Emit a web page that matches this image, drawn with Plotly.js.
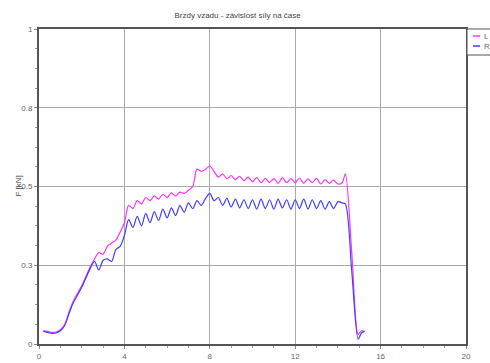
<!DOCTYPE html>
<html>
<head>
<meta charset="utf-8">
<script src="https://cdn.plot.ly/plotly-3.0.1.min.js"></script>
<style>
  html, body { margin: 0; padding: 0; background: #fff; }
  #chart { width: 490px; height: 363px; }
</style>
</head>
<body>
<div id="chart"></div>
<script>
// Time samples [s]
const time = [
  0.2, 0.4, 0.6, 0.8, 1.0, 1.2, 1.4, 1.6, 1.8, 2.0,
  2.2, 2.4, 2.6, 2.8, 3.0, 3.2, 3.4, 3.6, 3.8, 4.0,
  4.2, 4.4, 4.6, 4.8, 5.0, 5.2, 5.4, 5.6, 5.8, 6.0,
  6.2, 6.4, 6.6, 6.8, 7.0, 7.2, 7.4, 7.6, 7.8, 8.0,
  8.2, 8.4, 8.6, 8.8, 9.0, 9.2, 9.4, 9.6, 9.8, 10.0,
  10.2, 10.4, 10.6, 10.8, 11.0, 11.2, 11.4, 11.6, 11.8, 12.0,
  12.2, 12.4, 12.6, 12.8, 13.0, 13.2, 13.4, 13.6, 13.8, 14.0,
  14.2, 14.35, 14.65, 14.95, 15.1, 15.25
];

// Left brake force [kN]
const forceL = [
  0.042, 0.040, 0.037, 0.038, 0.045, 0.062, 0.100, 0.135, 0.160, 0.185,
  0.215, 0.245, 0.270, 0.290, 0.285, 0.310, 0.320, 0.330, 0.355, 0.385,
  0.440, 0.430, 0.455, 0.445, 0.465, 0.455, 0.470, 0.460, 0.475, 0.465,
  0.480, 0.470, 0.482, 0.478, 0.488, 0.500, 0.555, 0.548, 0.555, 0.565,
  0.548, 0.530, 0.540, 0.525, 0.535, 0.522, 0.532, 0.518, 0.530, 0.515,
  0.528, 0.512, 0.526, 0.513, 0.525, 0.510, 0.528, 0.512, 0.525, 0.512,
  0.527, 0.510, 0.524, 0.512, 0.526, 0.508, 0.522, 0.510, 0.520, 0.508,
  0.512, 0.540, 0.290, 0.030, 0.042, 0.040
];

// Right brake force [kN]
const forceR = [
  0.040, 0.037, 0.034, 0.035, 0.042, 0.058, 0.095, 0.130, 0.155, 0.180,
  0.210, 0.240, 0.262, 0.235, 0.265, 0.270, 0.262, 0.300, 0.310, 0.345,
  0.395, 0.370, 0.405, 0.375, 0.415, 0.385, 0.420, 0.392, 0.428, 0.400,
  0.432, 0.408, 0.440, 0.418, 0.448, 0.430, 0.455, 0.440, 0.462, 0.478,
  0.455, 0.465, 0.440, 0.462, 0.435, 0.460, 0.432, 0.458, 0.430, 0.458,
  0.428, 0.460, 0.430, 0.458, 0.428, 0.460, 0.432, 0.458, 0.428, 0.458,
  0.430, 0.460, 0.428, 0.458, 0.430, 0.455, 0.428, 0.452, 0.430, 0.452,
  0.448, 0.445, 0.230, 0.015, 0.035, 0.040
];

const seriesNames = ['L', 'R'];
const seriesColors = ['#ff33ff', '#3f3fff'];

const xTicks = [0, 4, 8, 12, 16, 20];
const yTicks = [0, 0.25, 0.5, 0.75, 1];
const yTickText = ['0', '0.3', '0.5', '0.8', '1'];

const FAMILY = 'Liberation Sans, Arial, sans-serif';
const font = { family: FAMILY, size: 8, color: '#666' };

// Plot-area geometry in pixels (used for the legend box and the axis title)
const W = 490, H = 363;
const M = { l: 39, r: 24, t: 29, b: 19 };
const px2x = p => (p - M.l) / (W - M.l - M.r);
const px2y = p => 1 - (p - M.t) / (H - M.t - M.b);

const traces = [
  { x: time, y: forceL, name: seriesNames[0], type: 'scatter', mode: 'lines',
    line: { color: seriesColors[0], width: 1.2, shape: 'spline', smoothing: 0.8 } },
  { x: time, y: forceR, name: seriesNames[1], type: 'scatter', mode: 'lines',
    line: { color: seriesColors[1], width: 1.2, shape: 'spline', smoothing: 0.8 } }
];

// Compact legend: a framed box hugging the right edge of the plot
const shapes = [
  { type: 'rect', xref: 'paper', yref: 'paper',
    x0: px2x(467), x1: px2x(492), y0: px2y(55), y1: px2y(29),
    line: { color: '#555', width: 1 }, fillcolor: '#fff', layer: 'above' }
];
const annotations = [];
seriesNames.forEach((name, i) => {
  const yc = 36 + i * 10;
  shapes.push({ type: 'line', xref: 'paper', yref: 'paper',
    x0: px2x(473), x1: px2x(480), y0: px2y(yc), y1: px2y(yc),
    line: { color: seriesColors[i], width: 1.5 }, layer: 'above' });
  annotations.push({ xref: 'paper', yref: 'paper', x: px2x(482), y: px2y(yc),
    xanchor: 'left', yanchor: 'middle', text: name, showarrow: false,
    font: font });
});

// Y-axis title sits close to the tick labels
annotations.push({ xref: 'paper', yref: 'paper', x: px2x(18), y: 0.5,
  xanchor: 'center', yanchor: 'middle', textangle: -90, text: 'F [kN]',
  showarrow: false, font: { family: FAMILY, size: 8, color: '#444' } });

const layout = {
  width: W, height: H,
  margin: { l: M.l, r: M.r, t: M.t, b: M.b, autoexpand: false },
  paper_bgcolor: '#fff', plot_bgcolor: '#fff',
  font: font,
  showlegend: false,
  title: {
    text: 'Brzdy vzadu - závislost síly na čase',
    font: { family: FAMILY, size: 8, color: '#444' },
    x: 0.485, xanchor: 'center', y: 0.958, yanchor: 'middle', yref: 'container'
  },
  shapes: shapes,
  annotations: annotations,
  xaxis: {
    range: [0, 20], tickvals: xTicks, ticktext: xTicks.map(String),
    showgrid: true, gridcolor: '#aaa', gridwidth: 1,
    zeroline: false, showline: true, linecolor: '#555', linewidth: 2, mirror: true,
    ticks: 'outside', ticklen: 3, tickcolor: '#888',
    minor: { tick0: 0, dtick: 1, ticks: 'outside', ticklen: 2, tickcolor: '#999', showgrid: false },
    tickfont: font, fixedrange: true
  },
  yaxis: {
    range: [0, 1], tickvals: yTicks, ticktext: yTickText,
    showgrid: true, gridcolor: '#aaa', gridwidth: 1,
    zeroline: false, showline: true, linecolor: '#555', linewidth: 2, mirror: true,
    ticks: 'outside', ticklen: 3, tickcolor: '#888',
    minor: { tick0: 0, dtick: 0.0625, ticks: 'outside', ticklen: 2, tickcolor: '#999', showgrid: false },
    tickfont: font, fixedrange: true
  }
};

Plotly.newPlot('chart', traces, layout, { displayModeBar: false, staticPlot: true });
</script>
</body>
</html>
